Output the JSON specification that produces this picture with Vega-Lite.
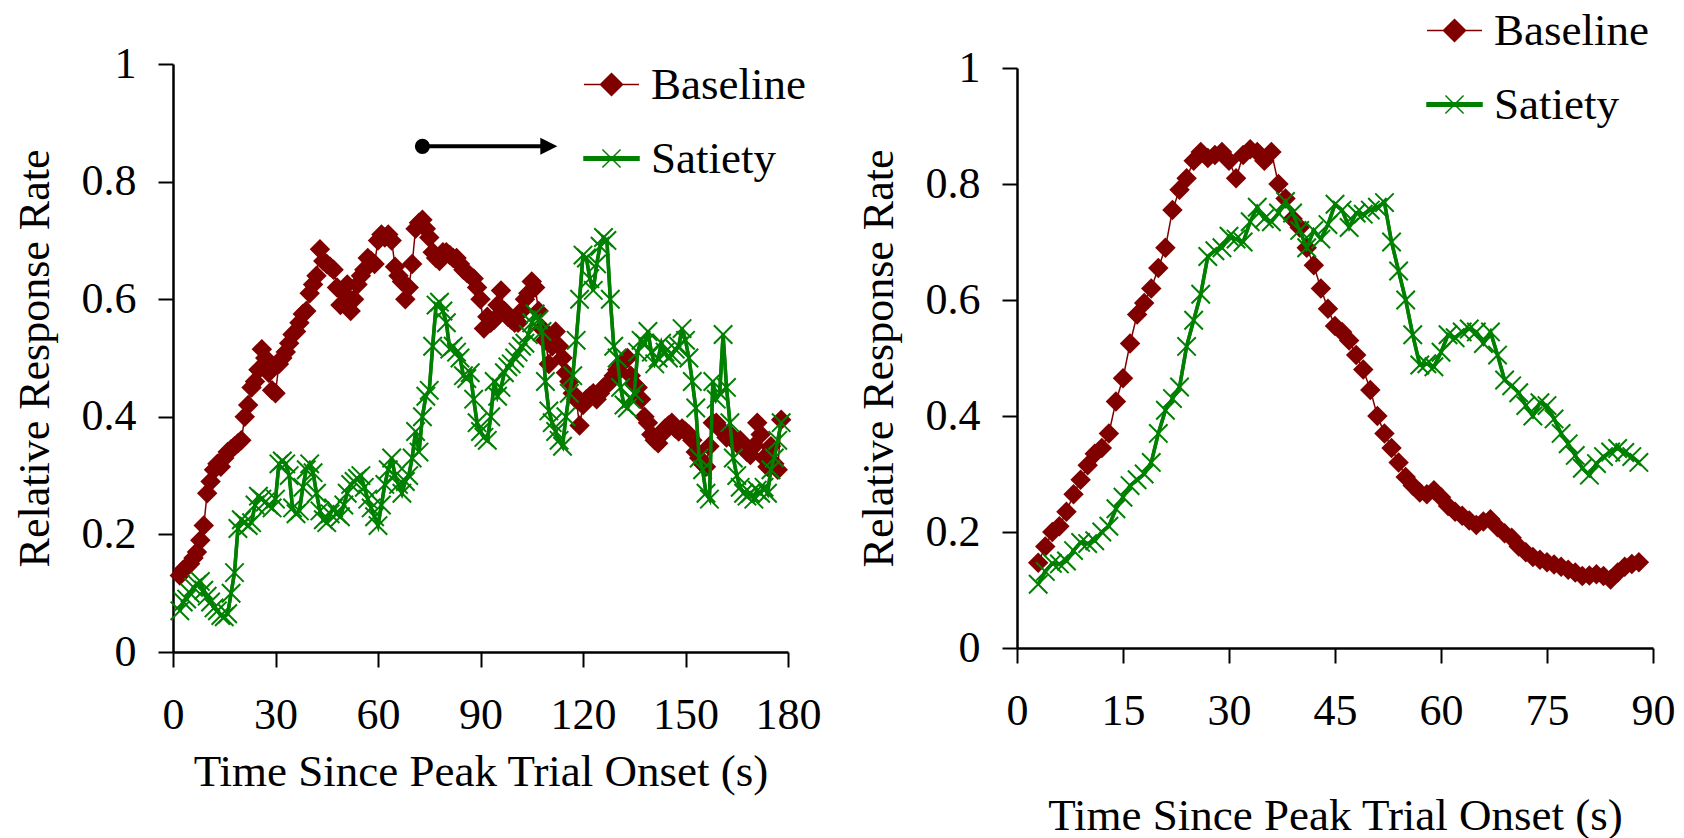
{
"$schema": "https://vega.github.io/schema/vega-lite/v6.json",
"padding": {"left": 13, "top": 2, "right": 5, "bottom": 5},
"background": "white",
"bounds": "flush",
"center": true,
"spacing": 229,
"resolve": {"scale": {"color": "independent"}, "legend": {"color": "independent"}},
"datasets": {
"left": [
{"series":"Baseline","time":2,"rate":0.13},{"series":"Baseline","time":3,"rate":0.14},{"series":"Baseline","time":4,"rate":0.145},{"series":"Baseline","time":5,"rate":0.15},{"series":"Baseline","time":6,"rate":0.16},{"series":"Baseline","time":7,"rate":0.17},{"series":"Baseline","time":8,"rate":0.19},{"series":"Baseline","time":9,"rate":0.215},{"series":"Baseline","time":10,"rate":0.27},{"series":"Baseline","time":11,"rate":0.29},{"series":"Baseline","time":12,"rate":0.31},{"series":"Baseline","time":13,"rate":0.32},{"series":"Baseline","time":14,"rate":0.315},{"series":"Baseline","time":15,"rate":0.33},{"series":"Baseline","time":16,"rate":0.34},{"series":"Baseline","time":17,"rate":0.345},{"series":"Baseline","time":18,"rate":0.35},{"series":"Baseline","time":19,"rate":0.355},{"series":"Baseline","time":20,"rate":0.36},{"series":"Baseline","time":21,"rate":0.4},{"series":"Baseline","time":22,"rate":0.42},{"series":"Baseline","time":23,"rate":0.45},{"series":"Baseline","time":24,"rate":0.46},{"series":"Baseline","time":25,"rate":0.48},{"series":"Baseline","time":26,"rate":0.515},{"series":"Baseline","time":27,"rate":0.5},{"series":"Baseline","time":28,"rate":0.475},{"series":"Baseline","time":29,"rate":0.445},{"series":"Baseline","time":30,"rate":0.44},{"series":"Baseline","time":31,"rate":0.49},{"series":"Baseline","time":32,"rate":0.5},{"series":"Baseline","time":33,"rate":0.51},{"series":"Baseline","time":34,"rate":0.525},{"series":"Baseline","time":35,"rate":0.54},{"series":"Baseline","time":36,"rate":0.545},{"series":"Baseline","time":37,"rate":0.56},{"series":"Baseline","time":38,"rate":0.575},{"series":"Baseline","time":39,"rate":0.58},{"series":"Baseline","time":40,"rate":0.61},{"series":"Baseline","time":41,"rate":0.625},{"series":"Baseline","time":42,"rate":0.64},{"series":"Baseline","time":43,"rate":0.685},{"series":"Baseline","time":44,"rate":0.665},{"series":"Baseline","time":45,"rate":0.66},{"series":"Baseline","time":46,"rate":0.655},{"series":"Baseline","time":47,"rate":0.65},{"series":"Baseline","time":48,"rate":0.62},{"series":"Baseline","time":49,"rate":0.59},{"series":"Baseline","time":50,"rate":0.61},{"series":"Baseline","time":51,"rate":0.625},{"series":"Baseline","time":52,"rate":0.58},{"series":"Baseline","time":53,"rate":0.6},{"series":"Baseline","time":54,"rate":0.625},{"series":"Baseline","time":55,"rate":0.64},{"series":"Baseline","time":56,"rate":0.65},{"series":"Baseline","time":57,"rate":0.67},{"series":"Baseline","time":58,"rate":0.665},{"series":"Baseline","time":59,"rate":0.66},{"series":"Baseline","time":60,"rate":0.7},{"series":"Baseline","time":61,"rate":0.71},{"series":"Baseline","time":62,"rate":0.705},{"series":"Baseline","time":63,"rate":0.71},{"series":"Baseline","time":64,"rate":0.7},{"series":"Baseline","time":65,"rate":0.655},{"series":"Baseline","time":66,"rate":0.64},{"series":"Baseline","time":67,"rate":0.63},{"series":"Baseline","time":68,"rate":0.6},{"series":"Baseline","time":69,"rate":0.62},{"series":"Baseline","time":70,"rate":0.66},{"series":"Baseline","time":71,"rate":0.72},{"series":"Baseline","time":72,"rate":0.73},{"series":"Baseline","time":73,"rate":0.735},{"series":"Baseline","time":74,"rate":0.72},{"series":"Baseline","time":75,"rate":0.705},{"series":"Baseline","time":76,"rate":0.68},{"series":"Baseline","time":77,"rate":0.67},{"series":"Baseline","time":78,"rate":0.665},{"series":"Baseline","time":79,"rate":0.68},{"series":"Baseline","time":80,"rate":0.68},{"series":"Baseline","time":81,"rate":0.675},{"series":"Baseline","time":82,"rate":0.67},{"series":"Baseline","time":83,"rate":0.67},{"series":"Baseline","time":84,"rate":0.66},{"series":"Baseline","time":85,"rate":0.65},{"series":"Baseline","time":86,"rate":0.645},{"series":"Baseline","time":87,"rate":0.64},{"series":"Baseline","time":88,"rate":0.635},{"series":"Baseline","time":89,"rate":0.62},{"series":"Baseline","time":90,"rate":0.6},{"series":"Baseline","time":91,"rate":0.55},{"series":"Baseline","time":92,"rate":0.57},{"series":"Baseline","time":93,"rate":0.56},{"series":"Baseline","time":94,"rate":0.565},{"series":"Baseline","time":95,"rate":0.59},{"series":"Baseline","time":96,"rate":0.615},{"series":"Baseline","time":97,"rate":0.58},{"series":"Baseline","time":98,"rate":0.57},{"series":"Baseline","time":99,"rate":0.565},{"series":"Baseline","time":100,"rate":0.56},{"series":"Baseline","time":101,"rate":0.56},{"series":"Baseline","time":102,"rate":0.58},{"series":"Baseline","time":103,"rate":0.6},{"series":"Baseline","time":104,"rate":0.61},{"series":"Baseline","time":105,"rate":0.63},{"series":"Baseline","time":106,"rate":0.62},{"series":"Baseline","time":107,"rate":0.58},{"series":"Baseline","time":108,"rate":0.55},{"series":"Baseline","time":109,"rate":0.53},{"series":"Baseline","time":110,"rate":0.49},{"series":"Baseline","time":111,"rate":0.52},{"series":"Baseline","time":112,"rate":0.545},{"series":"Baseline","time":113,"rate":0.52},{"series":"Baseline","time":114,"rate":0.5},{"series":"Baseline","time":115,"rate":0.475},{"series":"Baseline","time":116,"rate":0.46},{"series":"Baseline","time":117,"rate":0.44},{"series":"Baseline","time":118,"rate":0.43},{"series":"Baseline","time":119,"rate":0.385},{"series":"Baseline","time":120,"rate":0.42},{"series":"Baseline","time":121,"rate":0.43},{"series":"Baseline","time":122,"rate":0.435},{"series":"Baseline","time":123,"rate":0.44},{"series":"Baseline","time":124,"rate":0.43},{"series":"Baseline","time":125,"rate":0.44},{"series":"Baseline","time":126,"rate":0.45},{"series":"Baseline","time":127,"rate":0.455},{"series":"Baseline","time":128,"rate":0.46},{"series":"Baseline","time":129,"rate":0.47},{"series":"Baseline","time":130,"rate":0.48},{"series":"Baseline","time":131,"rate":0.49},{"series":"Baseline","time":132,"rate":0.495},{"series":"Baseline","time":133,"rate":0.5},{"series":"Baseline","time":134,"rate":0.47},{"series":"Baseline","time":135,"rate":0.455},{"series":"Baseline","time":136,"rate":0.45},{"series":"Baseline","time":137,"rate":0.43},{"series":"Baseline","time":138,"rate":0.4},{"series":"Baseline","time":139,"rate":0.39},{"series":"Baseline","time":140,"rate":0.37},{"series":"Baseline","time":141,"rate":0.36},{"series":"Baseline","time":142,"rate":0.355},{"series":"Baseline","time":143,"rate":0.37},{"series":"Baseline","time":144,"rate":0.38},{"series":"Baseline","time":145,"rate":0.385},{"series":"Baseline","time":146,"rate":0.39},{"series":"Baseline","time":147,"rate":0.38},{"series":"Baseline","time":148,"rate":0.375},{"series":"Baseline","time":149,"rate":0.38},{"series":"Baseline","time":150,"rate":0.375},{"series":"Baseline","time":151,"rate":0.37},{"series":"Baseline","time":152,"rate":0.36},{"series":"Baseline","time":153,"rate":0.34},{"series":"Baseline","time":154,"rate":0.33},{"series":"Baseline","time":155,"rate":0.32},{"series":"Baseline","time":156,"rate":0.315},{"series":"Baseline","time":157,"rate":0.35},{"series":"Baseline","time":158,"rate":0.39},{"series":"Baseline","time":159,"rate":0.39},{"series":"Baseline","time":160,"rate":0.38},{"series":"Baseline","time":161,"rate":0.375},{"series":"Baseline","time":162,"rate":0.365},{"series":"Baseline","time":163,"rate":0.37},{"series":"Baseline","time":164,"rate":0.36},{"series":"Baseline","time":165,"rate":0.355},{"series":"Baseline","time":166,"rate":0.36},{"series":"Baseline","time":167,"rate":0.35},{"series":"Baseline","time":168,"rate":0.34},{"series":"Baseline","time":169,"rate":0.335},{"series":"Baseline","time":170,"rate":0.35},{"series":"Baseline","time":171,"rate":0.39},{"series":"Baseline","time":172,"rate":0.37},{"series":"Baseline","time":173,"rate":0.33},{"series":"Baseline","time":174,"rate":0.315},{"series":"Baseline","time":175,"rate":0.35},{"series":"Baseline","time":176,"rate":0.32},{"series":"Baseline","time":177,"rate":0.31},{"series":"Baseline","time":178,"rate":0.395},
{"series":"Satiety","time":2,"rate":0.07},{"series":"Satiety","time":3,"rate":0.085},{"series":"Satiety","time":4,"rate":0.09},{"series":"Satiety","time":5,"rate":0.1},{"series":"Satiety","time":6,"rate":0.11},{"series":"Satiety","time":7,"rate":0.115},{"series":"Satiety","time":8,"rate":0.12},{"series":"Satiety","time":9,"rate":0.105},{"series":"Satiety","time":10,"rate":0.095},{"series":"Satiety","time":11,"rate":0.085},{"series":"Satiety","time":12,"rate":0.075},{"series":"Satiety","time":13,"rate":0.07},{"series":"Satiety","time":14,"rate":0.062},{"series":"Satiety","time":15,"rate":0.06},{"series":"Satiety","time":16,"rate":0.065},{"series":"Satiety","time":17,"rate":0.1},{"series":"Satiety","time":18,"rate":0.135},{"series":"Satiety","time":19,"rate":0.21},{"series":"Satiety","time":20,"rate":0.225},{"series":"Satiety","time":21,"rate":0.22},{"series":"Satiety","time":22,"rate":0.215},{"series":"Satiety","time":23,"rate":0.22},{"series":"Satiety","time":24,"rate":0.25},{"series":"Satiety","time":25,"rate":0.265},{"series":"Satiety","time":26,"rate":0.26},{"series":"Satiety","time":27,"rate":0.255},{"series":"Satiety","time":28,"rate":0.25},{"series":"Satiety","time":29,"rate":0.245},{"series":"Satiety","time":30,"rate":0.26},{"series":"Satiety","time":31,"rate":0.32},{"series":"Satiety","time":32,"rate":0.325},{"series":"Satiety","time":33,"rate":0.32},{"series":"Satiety","time":34,"rate":0.3},{"series":"Satiety","time":35,"rate":0.245},{"series":"Satiety","time":36,"rate":0.235},{"series":"Satiety","time":37,"rate":0.24},{"series":"Satiety","time":38,"rate":0.28},{"series":"Satiety","time":39,"rate":0.31},{"series":"Satiety","time":40,"rate":0.32},{"series":"Satiety","time":41,"rate":0.305},{"series":"Satiety","time":42,"rate":0.27},{"series":"Satiety","time":43,"rate":0.24},{"series":"Satiety","time":44,"rate":0.225},{"series":"Satiety","time":45,"rate":0.22},{"series":"Satiety","time":46,"rate":0.235},{"series":"Satiety","time":47,"rate":0.245},{"series":"Satiety","time":48,"rate":0.235},{"series":"Satiety","time":49,"rate":0.23},{"series":"Satiety","time":50,"rate":0.25},{"series":"Satiety","time":51,"rate":0.27},{"series":"Satiety","time":52,"rate":0.285},{"series":"Satiety","time":53,"rate":0.29},{"series":"Satiety","time":54,"rate":0.295},{"series":"Satiety","time":55,"rate":0.3},{"series":"Satiety","time":56,"rate":0.28},{"series":"Satiety","time":57,"rate":0.26},{"series":"Satiety","time":58,"rate":0.245},{"series":"Satiety","time":59,"rate":0.23},{"series":"Satiety","time":60,"rate":0.215},{"series":"Satiety","time":61,"rate":0.25},{"series":"Satiety","time":62,"rate":0.285},{"series":"Satiety","time":63,"rate":0.31},{"series":"Satiety","time":64,"rate":0.33},{"series":"Satiety","time":65,"rate":0.3},{"series":"Satiety","time":66,"rate":0.285},{"series":"Satiety","time":67,"rate":0.27},{"series":"Satiety","time":68,"rate":0.29},{"series":"Satiety","time":69,"rate":0.3},{"series":"Satiety","time":70,"rate":0.33},{"series":"Satiety","time":71,"rate":0.375},{"series":"Satiety","time":72,"rate":0.34},{"series":"Satiety","time":73,"rate":0.4},{"series":"Satiety","time":74,"rate":0.435},{"series":"Satiety","time":75,"rate":0.445},{"series":"Satiety","time":76,"rate":0.52},{"series":"Satiety","time":77,"rate":0.59},{"series":"Satiety","time":78,"rate":0.595},{"series":"Satiety","time":79,"rate":0.58},{"series":"Satiety","time":80,"rate":0.56},{"series":"Satiety","time":81,"rate":0.515},{"series":"Satiety","time":82,"rate":0.52},{"series":"Satiety","time":83,"rate":0.51},{"series":"Satiety","time":84,"rate":0.5},{"series":"Satiety","time":85,"rate":0.47},{"series":"Satiety","time":86,"rate":0.465},{"series":"Satiety","time":87,"rate":0.475},{"series":"Satiety","time":88,"rate":0.43},{"series":"Satiety","time":89,"rate":0.39},{"series":"Satiety","time":90,"rate":0.375},{"series":"Satiety","time":91,"rate":0.365},{"series":"Satiety","time":92,"rate":0.36},{"series":"Satiety","time":93,"rate":0.4},{"series":"Satiety","time":94,"rate":0.46},{"series":"Satiety","time":95,"rate":0.435},{"series":"Satiety","time":96,"rate":0.45},{"series":"Satiety","time":97,"rate":0.475},{"series":"Satiety","time":98,"rate":0.485},{"series":"Satiety","time":99,"rate":0.49},{"series":"Satiety","time":100,"rate":0.5},{"series":"Satiety","time":101,"rate":0.51},{"series":"Satiety","time":102,"rate":0.52},{"series":"Satiety","time":103,"rate":0.525},{"series":"Satiety","time":104,"rate":0.54},{"series":"Satiety","time":105,"rate":0.56},{"series":"Satiety","time":106,"rate":0.575},{"series":"Satiety","time":107,"rate":0.565},{"series":"Satiety","time":108,"rate":0.545},{"series":"Satiety","time":109,"rate":0.46},{"series":"Satiety","time":110,"rate":0.41},{"series":"Satiety","time":111,"rate":0.39},{"series":"Satiety","time":112,"rate":0.375},{"series":"Satiety","time":113,"rate":0.36},{"series":"Satiety","time":114,"rate":0.35},{"series":"Satiety","time":115,"rate":0.4},{"series":"Satiety","time":116,"rate":0.44},{"series":"Satiety","time":117,"rate":0.47},{"series":"Satiety","time":118,"rate":0.53},{"series":"Satiety","time":119,"rate":0.6},{"series":"Satiety","time":120,"rate":0.675},{"series":"Satiety","time":121,"rate":0.67},{"series":"Satiety","time":122,"rate":0.635},{"series":"Satiety","time":123,"rate":0.615},{"series":"Satiety","time":124,"rate":0.66},{"series":"Satiety","time":125,"rate":0.69},{"series":"Satiety","time":126,"rate":0.705},{"series":"Satiety","time":127,"rate":0.7},{"series":"Satiety","time":128,"rate":0.6},{"series":"Satiety","time":129,"rate":0.52},{"series":"Satiety","time":130,"rate":0.5},{"series":"Satiety","time":131,"rate":0.45},{"series":"Satiety","time":132,"rate":0.42},{"series":"Satiety","time":133,"rate":0.415},{"series":"Satiety","time":134,"rate":0.43},{"series":"Satiety","time":135,"rate":0.44},{"series":"Satiety","time":136,"rate":0.51},{"series":"Satiety","time":137,"rate":0.53},{"series":"Satiety","time":138,"rate":0.525},{"series":"Satiety","time":139,"rate":0.545},{"series":"Satiety","time":140,"rate":0.51},{"series":"Satiety","time":141,"rate":0.49},{"series":"Satiety","time":142,"rate":0.5},{"series":"Satiety","time":143,"rate":0.525},{"series":"Satiety","time":144,"rate":0.51},{"series":"Satiety","time":145,"rate":0.5},{"series":"Satiety","time":146,"rate":0.505},{"series":"Satiety","time":147,"rate":0.515},{"series":"Satiety","time":148,"rate":0.52},{"series":"Satiety","time":149,"rate":0.55},{"series":"Satiety","time":150,"rate":0.53},{"series":"Satiety","time":151,"rate":0.5},{"series":"Satiety","time":152,"rate":0.46},{"series":"Satiety","time":153,"rate":0.415},{"series":"Satiety","time":154,"rate":0.33},{"series":"Satiety","time":155,"rate":0.31},{"series":"Satiety","time":156,"rate":0.27},{"series":"Satiety","time":157,"rate":0.26},{"series":"Satiety","time":158,"rate":0.46},{"series":"Satiety","time":159,"rate":0.43},{"series":"Satiety","time":160,"rate":0.44},{"series":"Satiety","time":161,"rate":0.54},{"series":"Satiety","time":162,"rate":0.45},{"series":"Satiety","time":163,"rate":0.39},{"series":"Satiety","time":164,"rate":0.33},{"series":"Satiety","time":165,"rate":0.3},{"series":"Satiety","time":166,"rate":0.28},{"series":"Satiety","time":167,"rate":0.27},{"series":"Satiety","time":168,"rate":0.265},{"series":"Satiety","time":169,"rate":0.27},{"series":"Satiety","time":170,"rate":0.26},{"series":"Satiety","time":171,"rate":0.275},{"series":"Satiety","time":172,"rate":0.27},{"series":"Satiety","time":173,"rate":0.28},{"series":"Satiety","time":174,"rate":0.27},{"series":"Satiety","time":175,"rate":0.31},{"series":"Satiety","time":176,"rate":0.33},{"series":"Satiety","time":177,"rate":0.36},{"series":"Satiety","time":178,"rate":0.39}
],
"right": [
{"series":"Baseline","time":3,"rate":0.147},{"series":"Baseline","time":4,"rate":0.175},{"series":"Baseline","time":5,"rate":0.2},{"series":"Baseline","time":6,"rate":0.21},{"series":"Baseline","time":7,"rate":0.235},{"series":"Baseline","time":8,"rate":0.265},{"series":"Baseline","time":9,"rate":0.29},{"series":"Baseline","time":10,"rate":0.315},{"series":"Baseline","time":11,"rate":0.335},{"series":"Baseline","time":12,"rate":0.345},{"series":"Baseline","time":13,"rate":0.37},{"series":"Baseline","time":14,"rate":0.425},{"series":"Baseline","time":15,"rate":0.465},{"series":"Baseline","time":16,"rate":0.525},{"series":"Baseline","time":17,"rate":0.575},{"series":"Baseline","time":18,"rate":0.595},{"series":"Baseline","time":19,"rate":0.62},{"series":"Baseline","time":20,"rate":0.655},{"series":"Baseline","time":21,"rate":0.69},{"series":"Baseline","time":22,"rate":0.755},{"series":"Baseline","time":23,"rate":0.79},{"series":"Baseline","time":24,"rate":0.81},{"series":"Baseline","time":25,"rate":0.84},{"series":"Baseline","time":26,"rate":0.855},{"series":"Baseline","time":27,"rate":0.845},{"series":"Baseline","time":28,"rate":0.85},{"series":"Baseline","time":29,"rate":0.855},{"series":"Baseline","time":30,"rate":0.84},{"series":"Baseline","time":31,"rate":0.81},{"series":"Baseline","time":32,"rate":0.85},{"series":"Baseline","time":33,"rate":0.86},{"series":"Baseline","time":34,"rate":0.855},{"series":"Baseline","time":35,"rate":0.84},{"series":"Baseline","time":36,"rate":0.855},{"series":"Baseline","time":37,"rate":0.8},{"series":"Baseline","time":38,"rate":0.775},{"series":"Baseline","time":39,"rate":0.74},{"series":"Baseline","time":40,"rate":0.725},{"series":"Baseline","time":41,"rate":0.69},{"series":"Baseline","time":42,"rate":0.66},{"series":"Baseline","time":43,"rate":0.62},{"series":"Baseline","time":44,"rate":0.585},{"series":"Baseline","time":45,"rate":0.555},{"series":"Baseline","time":46,"rate":0.545},{"series":"Baseline","time":47,"rate":0.53},{"series":"Baseline","time":48,"rate":0.505},{"series":"Baseline","time":49,"rate":0.48},{"series":"Baseline","time":50,"rate":0.445},{"series":"Baseline","time":51,"rate":0.4},{"series":"Baseline","time":52,"rate":0.37},{"series":"Baseline","time":53,"rate":0.345},{"series":"Baseline","time":54,"rate":0.32},{"series":"Baseline","time":55,"rate":0.295},{"series":"Baseline","time":56,"rate":0.28},{"series":"Baseline","time":57,"rate":0.268},{"series":"Baseline","time":58,"rate":0.265},{"series":"Baseline","time":59,"rate":0.272},{"series":"Baseline","time":60,"rate":0.26},{"series":"Baseline","time":61,"rate":0.245},{"series":"Baseline","time":62,"rate":0.235},{"series":"Baseline","time":63,"rate":0.228},{"series":"Baseline","time":64,"rate":0.22},{"series":"Baseline","time":65,"rate":0.212},{"series":"Baseline","time":66,"rate":0.218},{"series":"Baseline","time":67,"rate":0.222},{"series":"Baseline","time":68,"rate":0.208},{"series":"Baseline","time":69,"rate":0.198},{"series":"Baseline","time":70,"rate":0.19},{"series":"Baseline","time":71,"rate":0.175},{"series":"Baseline","time":72,"rate":0.165},{"series":"Baseline","time":73,"rate":0.157},{"series":"Baseline","time":74,"rate":0.152},{"series":"Baseline","time":75,"rate":0.148},{"series":"Baseline","time":76,"rate":0.144},{"series":"Baseline","time":77,"rate":0.14},{"series":"Baseline","time":78,"rate":0.135},{"series":"Baseline","time":79,"rate":0.13},{"series":"Baseline","time":80,"rate":0.124},{"series":"Baseline","time":81,"rate":0.125},{"series":"Baseline","time":82,"rate":0.127},{"series":"Baseline","time":83,"rate":0.124},{"series":"Baseline","time":84,"rate":0.118},{"series":"Baseline","time":85,"rate":0.13},{"series":"Baseline","time":86,"rate":0.14},{"series":"Baseline","time":87,"rate":0.145},{"series":"Baseline","time":88,"rate":0.148},
{"series":"Satiety","time":3,"rate":0.11},{"series":"Satiety","time":4,"rate":0.132},{"series":"Satiety","time":5,"rate":0.146},{"series":"Satiety","time":6,"rate":0.145},{"series":"Satiety","time":7,"rate":0.15},{"series":"Satiety","time":8,"rate":0.168},{"series":"Satiety","time":9,"rate":0.182},{"series":"Satiety","time":10,"rate":0.18},{"series":"Satiety","time":11,"rate":0.185},{"series":"Satiety","time":12,"rate":0.2},{"series":"Satiety","time":13,"rate":0.21},{"series":"Satiety","time":14,"rate":0.24},{"series":"Satiety","time":15,"rate":0.26},{"series":"Satiety","time":16,"rate":0.28},{"series":"Satiety","time":17,"rate":0.29},{"series":"Satiety","time":18,"rate":0.3},{"series":"Satiety","time":19,"rate":0.32},{"series":"Satiety","time":20,"rate":0.37},{"series":"Satiety","time":21,"rate":0.41},{"series":"Satiety","time":22,"rate":0.43},{"series":"Satiety","time":23,"rate":0.45},{"series":"Satiety","time":24,"rate":0.52},{"series":"Satiety","time":25,"rate":0.565},{"series":"Satiety","time":26,"rate":0.61},{"series":"Satiety","time":27,"rate":0.675},{"series":"Satiety","time":28,"rate":0.685},{"series":"Satiety","time":29,"rate":0.69},{"series":"Satiety","time":30,"rate":0.71},{"series":"Satiety","time":31,"rate":0.705},{"series":"Satiety","time":32,"rate":0.7},{"series":"Satiety","time":33,"rate":0.735},{"series":"Satiety","time":34,"rate":0.76},{"series":"Satiety","time":35,"rate":0.74},{"series":"Satiety","time":36,"rate":0.735},{"series":"Satiety","time":37,"rate":0.75},{"series":"Satiety","time":38,"rate":0.77},{"series":"Satiety","time":39,"rate":0.75},{"series":"Satiety","time":40,"rate":0.72},{"series":"Satiety","time":41,"rate":0.69},{"series":"Satiety","time":42,"rate":0.72},{"series":"Satiety","time":43,"rate":0.705},{"series":"Satiety","time":44,"rate":0.73},{"series":"Satiety","time":45,"rate":0.765},{"series":"Satiety","time":46,"rate":0.755},{"series":"Satiety","time":47,"rate":0.725},{"series":"Satiety","time":48,"rate":0.75},{"series":"Satiety","time":49,"rate":0.748},{"series":"Satiety","time":50,"rate":0.755},{"series":"Satiety","time":51,"rate":0.76},{"series":"Satiety","time":52,"rate":0.768},{"series":"Satiety","time":53,"rate":0.7},{"series":"Satiety","time":54,"rate":0.65},{"series":"Satiety","time":55,"rate":0.6},{"series":"Satiety","time":56,"rate":0.54},{"series":"Satiety","time":57,"rate":0.488},{"series":"Satiety","time":58,"rate":0.49},{"series":"Satiety","time":59,"rate":0.485},{"series":"Satiety","time":60,"rate":0.51},{"series":"Satiety","time":61,"rate":0.54},{"series":"Satiety","time":62,"rate":0.535},{"series":"Satiety","time":63,"rate":0.545},{"series":"Satiety","time":64,"rate":0.55},{"series":"Satiety","time":65,"rate":0.545},{"series":"Satiety","time":66,"rate":0.525},{"series":"Satiety","time":67,"rate":0.545},{"series":"Satiety","time":68,"rate":0.505},{"series":"Satiety","time":69,"rate":0.462},{"series":"Satiety","time":70,"rate":0.452},{"series":"Satiety","time":71,"rate":0.44},{"series":"Satiety","time":72,"rate":0.418},{"series":"Satiety","time":73,"rate":0.4},{"series":"Satiety","time":74,"rate":0.423},{"series":"Satiety","time":75,"rate":0.418},{"series":"Satiety","time":76,"rate":0.395},{"series":"Satiety","time":77,"rate":0.37},{"series":"Satiety","time":78,"rate":0.352},{"series":"Satiety","time":79,"rate":0.332},{"series":"Satiety","time":80,"rate":0.31},{"series":"Satiety","time":81,"rate":0.298},{"series":"Satiety","time":82,"rate":0.318},{"series":"Satiety","time":83,"rate":0.33},{"series":"Satiety","time":84,"rate":0.338},{"series":"Satiety","time":85,"rate":0.344},{"series":"Satiety","time":86,"rate":0.337},{"series":"Satiety","time":87,"rate":0.33},{"series":"Satiety","time":88,"rate":0.32}
]
},
"hconcat": [
{
"width": 615,
"height": 588,
"layer": [
{
"data": {"name": "left"},
"mark": {"type": "line"},
"encoding": {
"x": {"field": "time", "type": "quantitative", "scale": {"domain": [0, 180], "nice": false, "zero": false}, "axis": {"values": [0, 30, 60, 90, 120, 150, 180], "title": "Time Since Peak Trial Onset (s)"}},
"y": {"field": "rate", "type": "quantitative", "scale": {"domain": [0, 1], "nice": false}, "axis": {"values": [0, 0.2, 0.4, 0.6, 0.8, 1], "format": "~g", "title": "Relative Response Rate"}},
"color": {"field": "series", "type": "nominal", "scale": {"domain": ["Baseline", "Satiety"], "range": ["#800000", "#008000"]},
"legend": {"orient": "none", "legendX": 410, "legendY": -8, "title": null, "padding": 0, "symbolSize": 3025, "labelFont": "Liberation Serif", "labelFontSize": 45, "labelColor": "black", "labelOffset": 11, "rowPadding": 22,
"encode": {"symbols": {"update": {
"shape": {"signal": "datum.value === 'Baseline' ? 'M-1,0L1,0M0,-0.4L0.4,0L0,0.4L-0.4,0Z' : 'M-1,-0.06L1,-0.06L1,0.06L-1,0.06ZM-0.33,-0.33L0.33,0.33M-0.33,0.33L0.33,-0.33'"},
"fill": {"signal": "datum.value === 'Baseline' ? '#800000' : '#008000'"},
"stroke": {"signal": "datum.value === 'Baseline' ? '#800000' : '#008000'"},
"fillOpacity": {"value": 1}, "opacity": {"value": 1}, "strokeWidth": {"value": 1.5}, "size": {"value": 3025}}}}}},
"strokeWidth": {"condition": {"test": "datum.series === 'Satiety'", "value": 3.5}, "value": 1.5}
}
},
{
"data": {"name": "left"},
"transform": [{"filter": "datum.series === 'Baseline'"}],
"mark": {"type": "point", "shape": "diamond", "filled": true, "color": "#800000", "size": 420, "opacity": 1},
"encoding": {"x": {"field": "time", "type": "quantitative"}, "y": {"field": "rate", "type": "quantitative"}}
},
{
"data": {"name": "left"},
"transform": [{"filter": "datum.series === 'Satiety'"}],
"mark": {"type": "line", "color": "#008000", "strokeWidth": 3.5},
"encoding": {"x": {"field": "time", "type": "quantitative"}, "y": {"field": "rate", "type": "quantitative"}}
},
{
"data": {"name": "left"},
"transform": [{"filter": "datum.series === 'Satiety'"}],
"mark": {"type": "point", "shape": "M-1,-1L1,1M-1,1L1,-1", "filled": false, "color": "#008000", "strokeWidth": 2, "size": 340, "opacity": 1},
"encoding": {"x": {"field": "time", "type": "quantitative"}, "y": {"field": "rate", "type": "quantitative"}}
},
{
"data": {"values": [{"time": 73, "time_end": 108, "rate": 0.86}]},
"mark": {"type": "rule", "color": "black", "strokeWidth": 4},
"encoding": {"x": {"field": "time", "type": "quantitative"}, "x2": {"field": "time_end"}, "y": {"field": "rate", "type": "quantitative"}}
},
{
"data": {"values": [{"time": 73, "rate": 0.86}]},
"mark": {"type": "point", "shape": "circle", "filled": true, "color": "black", "size": 230, "opacity": 1},
"encoding": {"x": {"field": "time", "type": "quantitative"}, "y": {"field": "rate", "type": "quantitative"}}
},
{
"data": {"values": [{"time": 110, "rate": 0.86}]},
"mark": {"type": "point", "shape": "M-1,-1L1,0L-1,1Z", "filled": true, "color": "black", "size": 289, "opacity": 1},
"encoding": {"x": {"field": "time", "type": "quantitative"}, "y": {"field": "rate", "type": "quantitative"}}
}
]
},
{
"width": 636,
"height": 580,
"layer": [
{
"data": {"name": "right"},
"mark": {"type": "line"},
"encoding": {
"x": {"field": "time", "type": "quantitative", "scale": {"domain": [0, 90], "nice": false, "zero": false}, "axis": {"values": [0, 15, 30, 45, 60, 75, 90], "title": "Time Since Peak Trial Onset (s)", "titlePadding": 60}},
"y": {"field": "rate", "type": "quantitative", "scale": {"domain": [0, 1], "nice": false}, "axis": {"values": [0, 0.2, 0.4, 0.6, 0.8, 1], "format": "~g", "title": "Relative Response Rate"}},
"color": {"field": "series", "type": "nominal", "scale": {"domain": ["Baseline", "Satiety"], "range": ["#800000", "#008000"]},
"legend": {"orient": "none", "legendX": 409, "legendY": -66, "title": null, "padding": 0, "symbolSize": 3025, "labelFont": "Liberation Serif", "labelFontSize": 45, "labelColor": "black", "labelOffset": 11, "rowPadding": 22,
"encode": {"symbols": {"update": {
"shape": {"signal": "datum.value === 'Baseline' ? 'M-1,0L1,0M0,-0.4L0.4,0L0,0.4L-0.4,0Z' : 'M-1,-0.06L1,-0.06L1,0.06L-1,0.06ZM-0.33,-0.33L0.33,0.33M-0.33,0.33L0.33,-0.33'"},
"fill": {"signal": "datum.value === 'Baseline' ? '#800000' : '#008000'"},
"stroke": {"signal": "datum.value === 'Baseline' ? '#800000' : '#008000'"},
"fillOpacity": {"value": 1}, "opacity": {"value": 1}, "strokeWidth": {"value": 1.5}, "size": {"value": 3025}}}}}},
"strokeWidth": {"condition": {"test": "datum.series === 'Satiety'", "value": 3.5}, "value": 1.5}
}
},
{
"data": {"name": "right"},
"transform": [{"filter": "datum.series === 'Baseline'"}],
"mark": {"type": "point", "shape": "diamond", "filled": true, "color": "#800000", "size": 420, "opacity": 1},
"encoding": {"x": {"field": "time", "type": "quantitative"}, "y": {"field": "rate", "type": "quantitative"}}
},
{
"data": {"name": "right"},
"transform": [{"filter": "datum.series === 'Satiety'"}],
"mark": {"type": "line", "color": "#008000", "strokeWidth": 3.5},
"encoding": {"x": {"field": "time", "type": "quantitative"}, "y": {"field": "rate", "type": "quantitative"}}
},
{
"data": {"name": "right"},
"transform": [{"filter": "datum.series === 'Satiety'"}],
"mark": {"type": "point", "shape": "M-1,-1L1,1M-1,1L1,-1", "filled": false, "color": "#008000", "strokeWidth": 2, "size": 340, "opacity": 1},
"encoding": {"x": {"field": "time", "type": "quantitative"}, "y": {"field": "rate", "type": "quantitative"}}
}
]
}
],
"config": {
"font": "Liberation Serif",
"view": {"stroke": null},
"axis": {"domainColor": "black", "domainWidth": 2.5, "tickColor": "black", "tickWidth": 2, "tickSize": 15, "labelFont": "Liberation Serif", "labelFontSize": 44, "labelColor": "black", "titleFont": "Liberation Serif", "titleFontWeight": "normal", "titleColor": "black", "grid": false, "labelFlush": false, "labelOverlap": false},
"axisX": {"labelPadding": 26, "titlePadding": 12, "titleFontSize": 45},
"axisY": {"labelPadding": 22, "titlePadding": 24, "titleFontSize": 44}
}
}
